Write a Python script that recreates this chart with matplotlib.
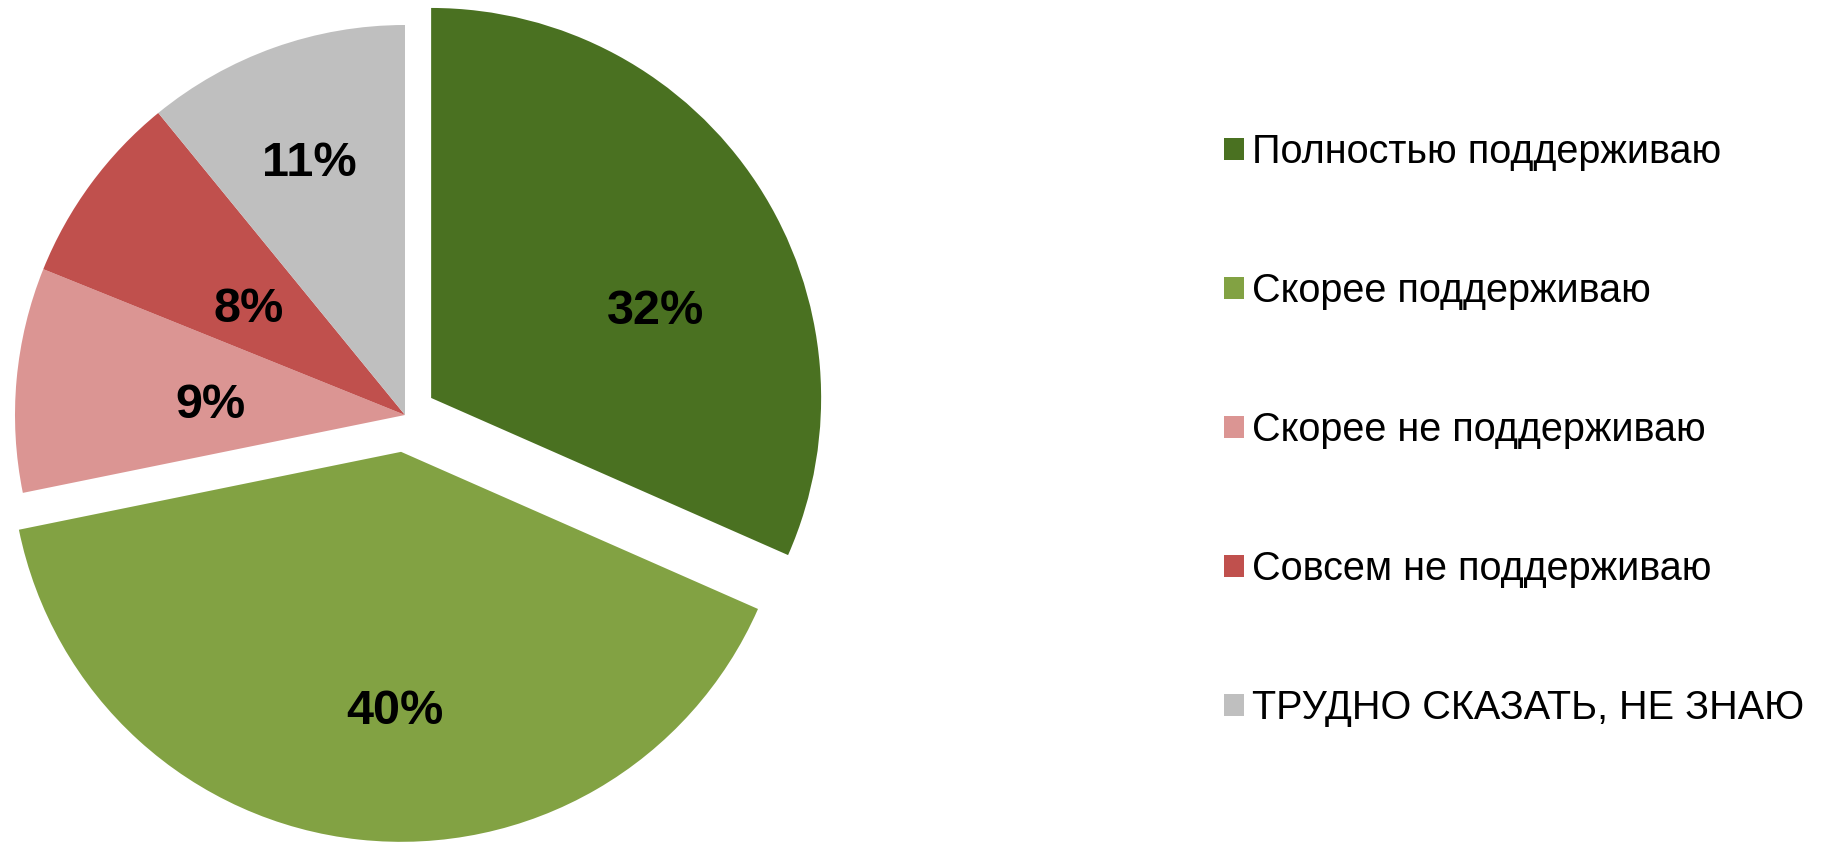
import numpy as np
import matplotlib.pyplot as plt
from matplotlib.patches import Patch

plt.rcParams['font.family'] = ['Liberation Sans', 'DejaVu Sans']

categories = ['Полностью поддерживаю', 'Скорее поддерживаю',
              'Скорее не поддерживаю', 'Совсем не поддерживаю',
              'ТРУДНО СКАЗАТЬ, НЕ ЗНАЮ']
# slice sizes; labels show them rounded
shares = [31.6, 40.2, 9.3, 8.0, 10.9]
colors = ['#4A7121', '#82A243', '#DB9593', '#C0504D', '#BFBFBF']
explode = [0.08, 0.095, 0, 0, 0]

# label placement (Excel "best fit" look): radial distance and angle shift
label_dist = [0.62, 0.655, 0.50, 0.49, 0.70]
label_shift = [-11.3, 4.8, 1.4, 1.4, 1.0]

W, H = 1828, 843
fig = plt.figure(figsize=(W / 100, H / 100), dpi=100)

# pie centre at (405, 415) px, radius 390 px
R, L = 390, 1.15
cx, cy = 405, 415
ax = fig.add_axes([(cx - R * L) / W, (H - cy - R * L) / H, 2 * R * L / W, 2 * R * L / H])

wedges, texts = ax.pie(shares, colors=colors, explode=explode, startangle=90,
                       counterclock=False, radius=1, center=(0, 0), frame=True)
ax.set_xlim(-L, L)
ax.set_ylim(-L, L)
ax.axis('off')

for w, v, d, s in zip(wedges, shares, label_dist, label_shift):
    ang = np.deg2rad((w.theta1 + w.theta2) / 2 + s)
    x0, y0 = w.center
    ax.text(x0 + d * np.cos(ang), y0 + d * np.sin(ang) - 0.01, f'{v:.0f}%',
            ha='center', va='center', fontsize=35, fontweight='bold', color='black')

handles = [Patch(facecolor=c, edgecolor='none') for c in colors]
fig.legend(handles, categories, loc='center left',
           bbox_to_anchor=(1224 / W, 1 - 430 / H), frameon=False,
           fontsize=28.5, handlelength=0.5, handleheight=0.5,
           handletextpad=0.22, labelspacing=2.55, borderpad=0, borderaxespad=0)

fig.savefig('out.png', dpi=100)
